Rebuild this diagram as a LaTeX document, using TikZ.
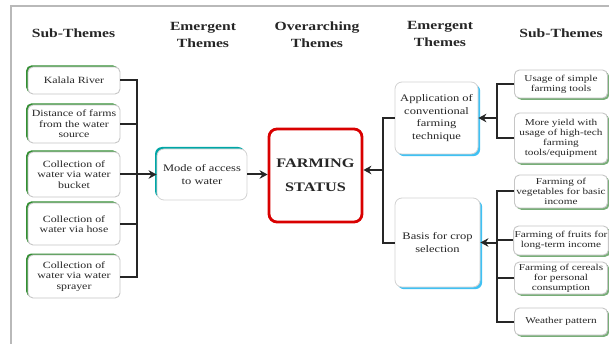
\documentclass[tikz,border=0pt]{standalone}
\usepackage{fontspec}
\setmainfont{Liberation Serif}[FakeStretch=1.25]
\usetikzlibrary{arrows.meta,shadows}
\begin{document}
\begin{tikzpicture}[x=1pt,y=-1pt,
  hdr/.style={align=center, text=black!85, font=\bfseries\fontsize{12.5}{17}\selectfont, inner sep=0pt},
  boxbase/.style={rectangle, rounded corners=5pt, fill=white, align=center, text=black!85, inner sep=1pt},
  subl/.style={boxbase, draw=gray!45, line width=0.9pt, minimum width=92pt,
    font=\fontsize{9.5}{10.5}\selectfont,
    drop shadow={shadow xshift=-1.8pt, shadow yshift=1.5pt, fill=green!45!black!80, opacity=1}},
  subr/.style={boxbase, draw=gray!45, line width=0.9pt, minimum width=93pt,
    font=\fontsize{9}{10}\selectfont,
    drop shadow={shadow xshift=1.8pt, shadow yshift=-1.8pt, fill=green!25!gray!85, opacity=1}},
  emgl/.style={boxbase, rounded corners=7pt, draw=gray!35, line width=0.8pt,
    font=\fontsize{10}{13}\selectfont,
    drop shadow={shadow xshift=-2pt, shadow yshift=2pt, fill=teal!70!cyan, opacity=1}},
  emgr/.style={boxbase, rounded corners=7pt, draw=gray!35, line width=0.8pt,
    font=\fontsize{10}{12.5}\selectfont,
    drop shadow={shadow xshift=2.2pt, shadow yshift=-2.2pt, fill=cyan!75, opacity=1}},
  farmbox/.style={boxbase, rounded corners=8pt, draw=red!85!black, line width=2.8pt,
    font=\bfseries\fontsize{13}{24}\selectfont, text=black!85},
  bus/.style={line width=2pt, black!85},
  arr/.style={line width=2pt, black!85, -{Stealth[length=8pt,width=8.5pt]}}
]
\useasboundingbox (0,0) rectangle (609,344);
\fill[white] (0,0) rectangle (609,344);
\draw[gray!55, line width=1.2pt] (11,344) -- (11,6) -- (609,6);

% headers
\node[hdr] (h1) at (73.5,33) {Sub-Themes};
\node[hdr] (h2) at (203,34.5) {Emergent\\Themes};
\node[hdr] (h3) at (317,34.5) {Overarching\\Themes};
\node[hdr] (h4) at (440,33.5) {Emergent\\Themes};
\node[hdr] (h5) at (561,33) {Sub-Themes};

% left sub-themes
\node[subl, minimum height=27pt] (l1) at (74,80.5) {Kalala River};
\node[subl, minimum height=38pt] (l2) at (74,124) {Distance of farms\\from the water\\source};
\node[subl, minimum height=45pt] (l3) at (74,174.5) {Collection of\\water via water\\bucket};
\node[subl, minimum height=42pt] (l4) at (74,224) {Collection of\\water via hose};
\node[subl, minimum height=43pt] (l5) at (74,276.5) {Collection of\\water via water\\sprayer};

% emergent left
\node[emgl, minimum width=90pt, minimum height=51pt] (mode) at (202,174.5) {Mode of access\\to water};

% overarching
\node[farmbox, minimum width=93pt, minimum height=93pt] (farm) at (315.5,175.5) {FARMING\\STATUS};

% emergent right
\node[emgr, minimum width=83pt, minimum height=72pt] (app) at (436.5,118) {Application of\\conventional\\farming\\technique};
\node[emgr, minimum width=85pt, minimum height=89pt] (basis) at (437.5,242.5) {Basis for crop\\selection};

% right sub-themes
\node[subr, minimum height=28pt] (r1) at (561,84) {Usage of simple\\farming tools};
\node[subr, minimum height=50pt] (r2) at (561,138) {More yield with\\usage of high-tech\\farming\\tools/equipment};
\node[subr, minimum height=33pt] (r3) at (561,191.5) {Farming of\\vegetables for basic\\income};
\node[subr, minimum height=29pt] (r4) at (561,240.5) {Farming of fruits for\\long-term income};
\node[subr, minimum height=32pt] (r5) at (561,278) {Farming of cereals\\for personal\\consumption};
\node[subr, minimum height=27pt] (r6) at (561,321.5) {Weather pattern};

% left connectors
\coordinate (bl) at (137,0);
\draw[bus] (l1.east) -- (l1.east -| bl) -- (l5.east -| bl) -- (l5.east);
\draw[bus] (l2.east) -- (l2.east -| bl);
\draw[bus] (l4.east) -- (l4.east -| bl);
\draw[arr] (l3.east) -- (l3.east -| mode.west);
\draw[arr] (mode.east) -- (mode.east -| farm.west);

% right connectors to farm
\coordinate (bm) at (383,170);
\draw[bus] (app.west) -- (app.west -| bm) -- (basis.west -| bm) -- (basis.west);
\draw[arr] (bm) -- (bm -| farm.east);

% right sub-theme connectors
\coordinate (br) at (497,0);
\draw[bus] (r1.west) -- (r1.west -| br) -- (r2.west -| br) -- (r2.west);
\draw[arr] (app.east -| br) -- (app.east);
\draw[bus] (r3.west) -- (r3.west -| br) -- (r6.west -| br) -- (r6.west);
\draw[bus] (r4.west) -- (r4.west -| br);
\draw[bus] (r5.west) -- (r5.west -| br);
\draw[arr] (basis.east -| br) -- (basis.east);
\end{tikzpicture}
\end{document}
